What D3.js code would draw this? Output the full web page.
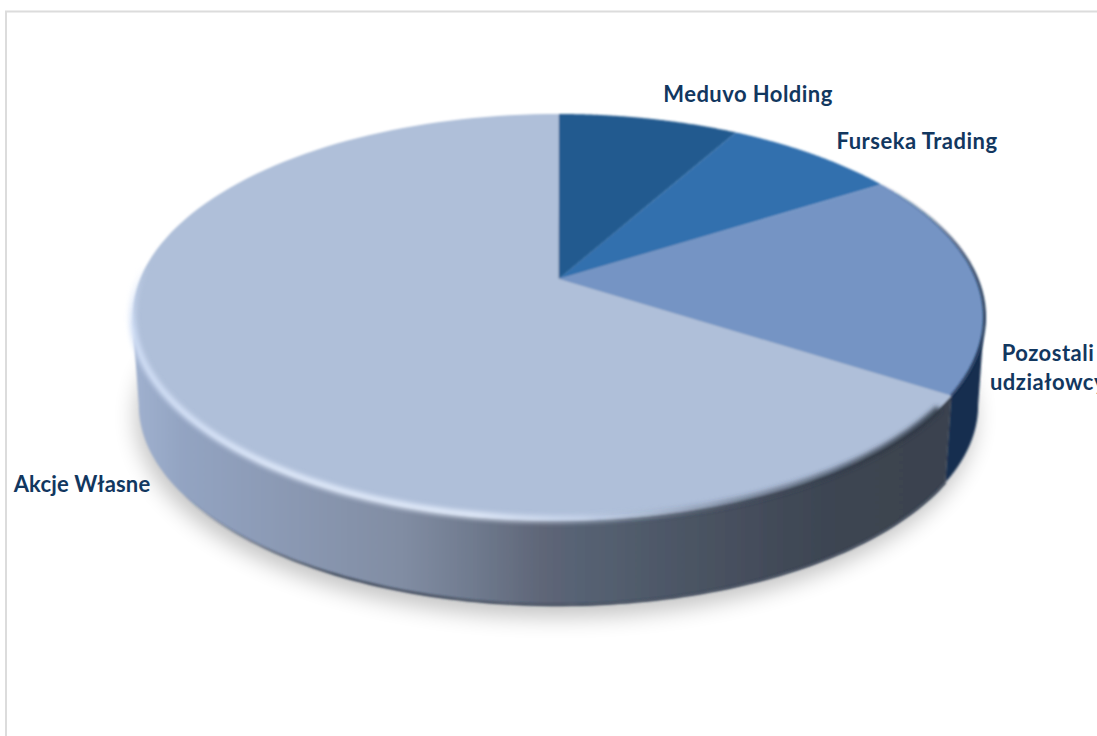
<!DOCTYPE html>
<html>
<head>
<meta charset="utf-8">
<script src="https://cdn.jsdelivr.net/npm/d3@7"></script>
<style>
html,body{margin:0;padding:0;background:#fff;overflow:hidden}
svg{display:block}
text{font-family:Lato,"Open Sans",sans-serif;font-weight:700;fill:#12375f;font-size:22px}
</style>
</head>
<body>
<svg id="chart" width="1097" height="736"></svg>
<script>
// Shareholder structure
const categories = ["Meduvo Holding", "Furseka Trading", "Pozostali udziałowcy", "Akcje Własne"];
const shares = [8.2, 7.9, 17.9, 66.0];
const topColors = ["#245a8f", "#3270ae", "#7494c4", "#afbfd9"];

// Layout of the tilted disc: apex of the slices, half-axes and perspective strength
const apex = {x: 558.5, y: 279};
const radiusX = 418.5, radiusY = 195.9, perspective = 0.1872;
const depth = 88.6, baseScale = 0.985;
const tangent = Math.asin(perspective);

const svg = d3.select("#chart");
const defs = svg.append("defs");

// Maps a clock angle on the disc (0 = far edge, clockwise) to the page
function rim(angle, level) {
  const X = Math.sin(angle), Y = -Math.cos(angle), w = 1 - perspective * Y;
  const s = level ? baseScale : 1;
  return [apex.x + s * radiusX * X / w, apex.y + (level ? depth : 0) + s * radiusY * Y / w];
}
const sample = (a0, a1, level) => d3.range(0, 121).map(i => rim(a0 + (a1 - a0) * i / 120, level));
const line = d3.line();

const pieAngles = d3.pie().sort(null).startAngle(0).endAngle(2 * Math.PI)(shares);

// Filters
function blurFilter(id, amount) {
  defs.append("filter").attr("id", id)
    .attr("filterUnits", "userSpaceOnUse").attr("x", 0).attr("y", 0).attr("width", 1097).attr("height", 736)
    .append("feGaussianBlur").attr("stdDeviation", amount);
}
blurFilter("soft", 0.8);
blurFilter("rimBlur", 2.6);
blurFilter("seamBlur", 0.9);
blurFilter("dropBlur", 11);

// Horizontal gradients spanning a stretch of the disc
function sideGradient(id, stops, x1 = apex.x - 426, x2 = apex.x + 390) {
  const g = defs.append("linearGradient").attr("id", id).attr("gradientUnits", "userSpaceOnUse")
    .attr("x1", x1).attr("x2", x2).attr("y1", 0).attr("y2", 0);
  stops.forEach(([o, c, a]) => g.append("stop").attr("offset", o).attr("stop-color", c).attr("stop-opacity", a === undefined ? 1 : a));
}

// Side wall shading, light on the left and falling to slate on the right
sideGradient("wallGrad", [[0, "#a0b1cf"], [0.06, "#93a4c2"], [0.2, "#8a98b2"], [0.33, "#818da3"], [0.42, "#6f7a8e"], [0.5, "#5f6678"], [0.55, "#566273"], [0.7, "#4a5362"], [0.85, "#3d4552"], [1, "#3b434f"]]);
const wallColors = [null, null, "#142d50", "url(#wallGrad)"];

// Bevel highlight along the near rim, fading out toward the right
sideGradient("shine", [[0, "#d0def6", 0.9], [0.18, "#dfe9fa", 0.95], [0.42, "#e2ebfa", 0.95], [0.6, "#c6d4ec", 0.6], [0.75, "#b4c4de", 0.2], [0.9, "#b4c4de", 0]]);
// Shaded lip on the near right of the rim
sideGradient("shade", [[0.55, "#2b3442", 0], [0.75, "#2b3442", 0.55], [1, "#2b3442", 0.9]]);
// Seam at the foot of the wall, absent at the light end
sideGradient("seam", [[0.06, "#2f3b4e", 0], [0.25, "#2f3b4e", 0.85], [1, "#2f3b4e", 0.8]]);
// Dark edge of the far right rim, growing toward the viewer
sideGradient("edge", [[0, "#12294a", 0], [0.55, "#12294a", 0.35], [1, "#12294a", 0.85]], apex.x + 320, apex.x + 426);

// The highlight dies away as the rim turns to the far side
const shineFade = defs.append("linearGradient").attr("id", "shineFade").attr("gradientUnits", "userSpaceOnUse")
  .attr("x1", 0).attr("x2", 0).attr("y1", apex.y - 15).attr("y2", apex.y + 50);
shineFade.append("stop").attr("offset", 0).attr("stop-color", "#fff").attr("stop-opacity", 0);
shineFade.append("stop").attr("offset", 1).attr("stop-color", "#fff").attr("stop-opacity", 1);
defs.append("mask").attr("id", "shineMask").attr("maskUnits", "userSpaceOnUse")
  .attr("x", 0).attr("y", 0).attr("width", 1097).attr("height", 736)
  .append("rect").attr("width", 1097).attr("height", 736).attr("fill", "url(#shineFade)");

// Outer frame of the chart area
svg.append("path").attr("d", d3.line()([[6, 736], [6, 11.5], [1097, 11.5]]))
  .attr("fill", "none").attr("stroke", "#dcdcdc").attr("stroke-width", 2);

// Drop shadow below the base
svg.append("path")
  .attr("d", line(sample(0, 2 * Math.PI, 1)) + "Z")
  .attr("transform", "translate(-3,12)")
  .attr("fill", "#000").attr("opacity", 0.23).attr("filter", "url(#dropBlur)");

const body = svg.append("g").attr("filter", "url(#soft)");

// Side wall pieces, only the arc facing the viewer
const frontStart = Math.PI / 2 + tangent, frontEnd = 3 * Math.PI / 2 - tangent;
body.selectAll("path.wall").data(pieAngles.filter((d, i) => wallColors[i]))
  .join("path").attr("class", "wall")
  .attr("d", d => {
    const a0 = Math.max(d.startAngle, frontStart), a1 = Math.min(d.endAngle, frontEnd);
    return line(sample(a0, a1, 0).concat(sample(a1, a0, 1))) + "Z";
  })
  .attr("fill", d => wallColors[d.index]);

// Dark seam along the foot of the wall
svg.append("path").attr("d", line(sample(pieAngles[2].endAngle, Math.PI * 1.4, 1)))
  .attr("fill", "none").attr("stroke", "url(#seam)").attr("stroke-width", 2.4).attr("filter", "url(#seamBlur)");

// Top face slices
body.selectAll("path.slice").data(pieAngles).join("path").attr("class", "slice")
  .attr("d", d => line([[apex.x, apex.y]].concat(sample(d.startAngle, d.endAngle, 0))) + "Z")
  .attr("fill", (d, i) => topColors[i]);

// Rim lighting: bright on the near side, dark on the far right
const rimLight = svg.append("g");
rimLight.append("path").attr("d", line(sample(Math.PI * 0.7, Math.PI * 1.4, 0)))
  .attr("fill", "none").attr("stroke", "url(#shade)").attr("stroke-width", 7).attr("filter", "url(#rimBlur)");
rimLight.append("g").attr("mask", "url(#shineMask)")
  .append("path").attr("d", line(sample(Math.PI * 0.62, Math.PI * 1.56, 0).map(([x, y]) => [x, y - 1])))
  .attr("fill", "none").attr("stroke", "url(#shine)").attr("stroke-width", 7).attr("filter", "url(#rimBlur)");
rimLight.append("path").attr("d", line(sample(pieAngles[1].endAngle, pieAngles[2].endAngle, 0)))
  .attr("fill", "none").attr("stroke", "url(#edge)").attr("stroke-width", 3).attr("filter", "url(#seamBlur)");

// Slice names; the two-line one wraps at its space
const labelAnchors = [[748, 102], [917, 149], [1048, 361], [82, 492]];
const labelTracking = [0.45, 0.5, 0.5, 0.15];
const labels = svg.selectAll("text").data(categories).join("text")
  .attr("text-anchor", "middle")
  .attr("letter-spacing", (d, i) => labelTracking[i])
  .attr("transform", (d, i) => `translate(${labelAnchors[i]})`);
labels.each(function (d) {
  const lines = d.startsWith("Pozostali") ? d.split(" ") : [d];
  d3.select(this).selectAll("tspan").data(lines).join("tspan")
    .attr("x", 0).attr("dy", (l, i) => i ? 29 : 0).text(l => l);
});
</script>
</body>
</html>
